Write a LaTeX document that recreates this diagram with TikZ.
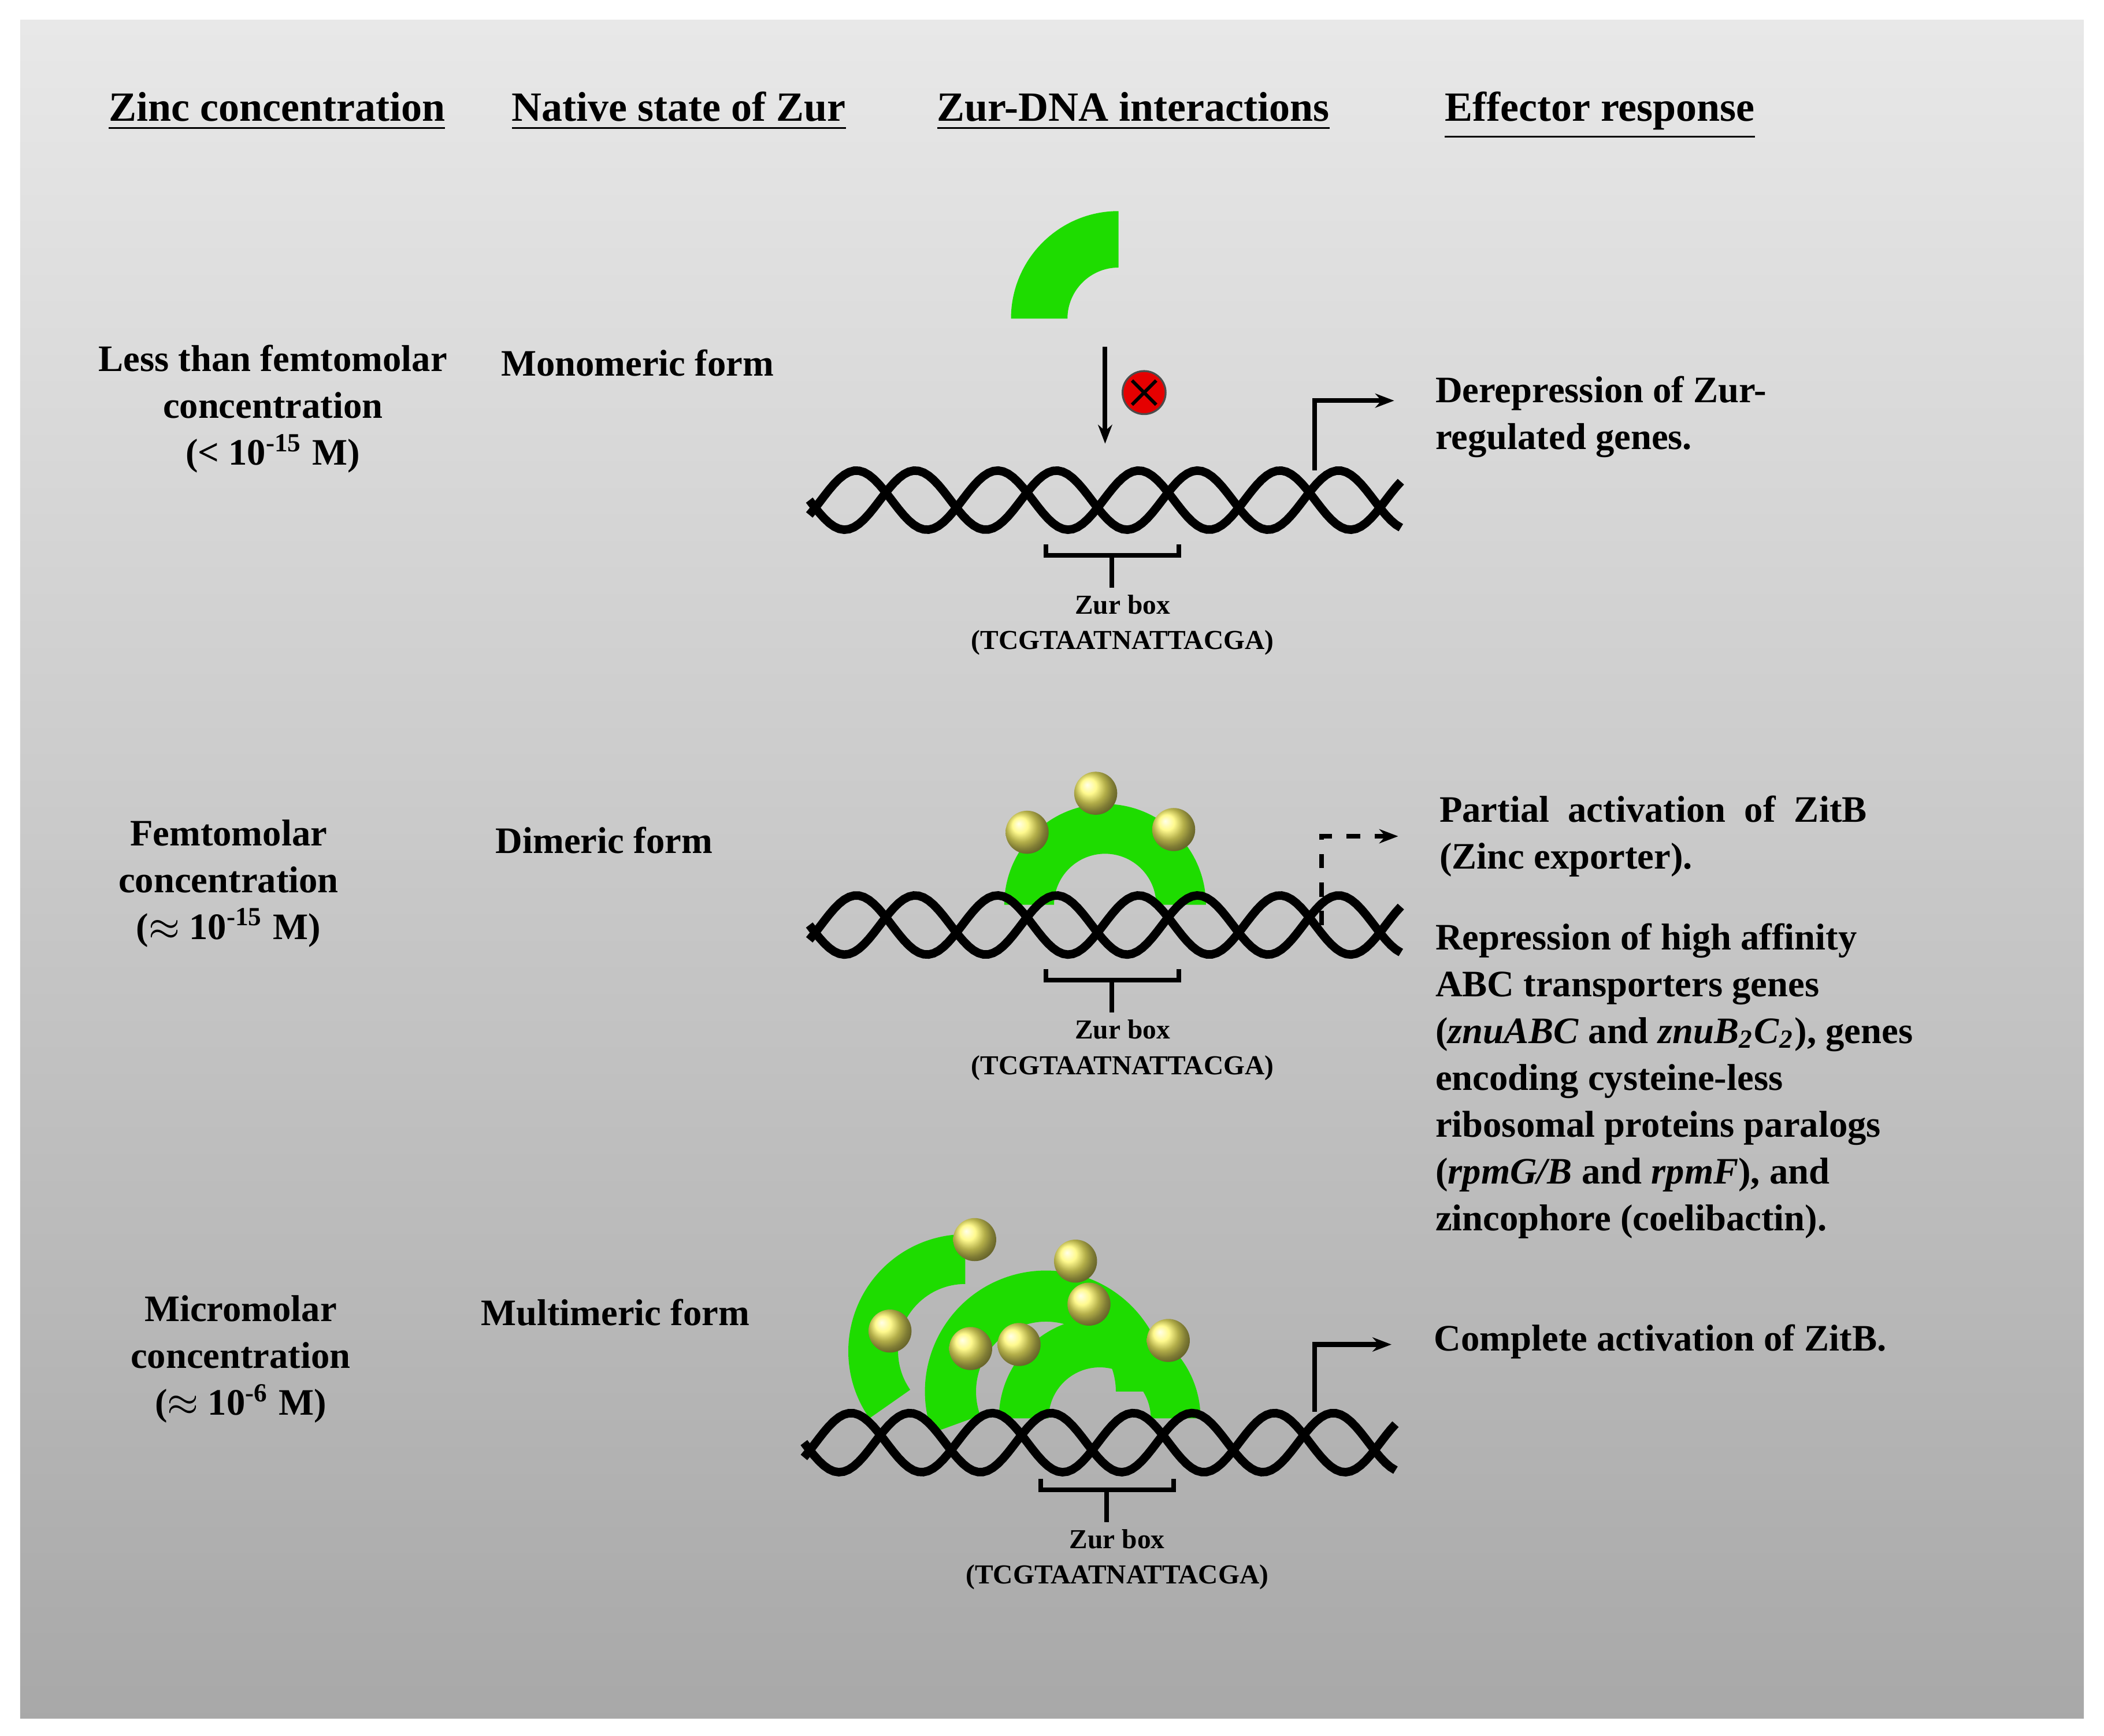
\documentclass[tikz,border=0pt]{standalone}
\usepackage{fontspec}
\setmainfont{Liberation Serif}
\usetikzlibrary{calc,arrows.meta}
\definecolor{zurgreen}{RGB}{30,220,0}
\definecolor{zincyellow}{RGB}{255,245,40}
\tikzset{
  txt/.style={font=\fontsize{7.9}{9.9}\selectfont\bfseries, inner sep=0pt},
  head/.style={font=\fontsize{8.8}{11}\selectfont\bfseries, inner sep=0pt, anchor=base},
  small/.style={font=\fontsize{5.8}{7.5}\selectfont\bfseries, inner sep=0pt, align=center},
  strand/.style={line width=1.8pt, black},
  zur/.style={fill=zurgreen},
  zinc/.style={shading=ball, ball color=zincyellow!70!white},
  tss/.style={line width=1pt, -{Stealth[length=4pt]}}
}
\newcommand\dnahelix[2]{% x0, y
  \draw[strand] plot[domain=0:440, samples=120] ({#1+\x}, {#2+22*sin(\x*3.4286)});
  \draw[strand] plot[domain=0:440, samples=120] ({#1+\x}, {#2+22*sin(\x*3.4286+150)});
}
\newcommand\zurarc[6]{% cx, cy, a1, a2, rout, rin
  \fill[zur] (#1,#2) ++(#3:#5) arc[start angle=#3, end angle=#4, radius=#5]
    -- ($(#1,#2)+(#4:#6)$) arc[start angle=#4, end angle=#3, radius=#6] -- cycle;
}
\newcommand\zurbox[3]{% x left, y, name
  \draw[line width=1pt] (#1,#2-8) -- (#1,#2) -- (#1+99,#2) -- (#1+99,#2-8);
  \draw[line width=1pt] (#1+49,#2) -- (#1+49,#2+24);
  \node[small] (#3) at (#1+57,#2+52) {Zur box\\(TCGTAATNATTACGA)};
}
\begin{document}
\begin{tikzpicture}[x=0.01cm,y=-0.01cm]
  \useasboundingbox (0,0) rectangle (1565,1291);
  \shade[top color=gray!18, bottom color=gray!68] (15,15) rectangle (1550,1278);

  % column headers
  \node[head] (h1) at (206,90) {\underline{Zinc concentration}};
  \node[head] (h2) at (505,90) {\underline{Native state of Zur}};
  \node[head] (h3) at (843,90) {\underline{Zur-DNA interactions}};
  \node[head] (h4) at (1190,90) {\underline{Effector response}};

  % row 1
  \node[txt, align=center] (c1) at (203,304) {Less than femtomolar\\concentration\\(< 10\textsuperscript{-15} M)};
  \node[txt, anchor=west] (s1) at (372,270) {Monomeric form};
  \node[txt, anchor=west, align=left] (e1) at (1067,310) {Derepression of Zur-\\regulated genes.};
  \zurarc{832}{237}{180}{270}{80}{38}
  \coordinate (m1) at (822,258);
  \coordinate (m2) at (822,330);
  \draw[line width=1pt, -{Stealth[length=4pt]}] (m1) -- (m2);
  \node[circle, fill=red!90!black, draw=black!70, minimum size=0.32cm, inner sep=0pt] (no) at (851,292) {};
  \draw[line width=0.7pt] ($(no)+(-9,-9)$) -- ($(no)+(9,9)$) ($(no)+(9,-9)$) -- ($(no)+(-9,9)$);
  \dnahelix{602}{372}
  \coordinate (p1) at (978,350);
  \coordinate (q1) at (1037,298);
  \draw[tss] (p1) |- (q1);
  \zurbox{778}{413}{b1}

  % row 2
  \node[txt, align=center] (c2) at (170,657) {Femtomolar\\concentration\\($\approx$ 10\textsuperscript{-15} M)};
  \node[txt, anchor=west] (s2) at (368,625) {Dimeric form};
  \node[txt, anchor=west, align=left] (e2) at (1070,622) {Partial\ \ activation\ \ of\ \ ZitB\\(Zinc exporter).};
  \node[txt, anchor=north west, align=left] (e3) at (1067,686) {Repression of high affinity\\ABC transporters genes\\(\textit{znuABC} and \textit{znuB\textsubscript{2}C\textsubscript{2}}), genes\\encoding cysteine-less\\ribosomal proteins paralogs\\(\textit{rpmG/B} and \textit{rpmF}), and\\zincophore (coelibactin).};
  \zurarc{822}{673}{180}{360}{75}{38}
  \shade[zinc] (815,590) circle (16);
  \shade[zinc] (764,619) circle (16);
  \shade[zinc] (873,617) circle (16);
  \dnahelix{602}{688}
  \coordinate (p2) at (983,688);
  \coordinate (q2) at (1040,622);
  \draw[tss, dashed] (p2) |- (q2);
  \zurbox{778}{729}{b2}

  % row 3
  \node[txt, align=center] (c3) at (179,1011) {Micromolar\\concentration\\($\approx$ 10\textsuperscript{-6} M)};
  \node[txt, anchor=west] (s3) at (357,976) {Multimeric form};
  \node[txt, anchor=west] (e4) at (1066,998) {Complete activation of ZitB.};
  \zurarc{718}{1005}{145}{270}{87}{50}
  \zurarc{778}{1035}{160}{360}{90}{52}
  \zurarc{818}{1055}{180}{360}{75}{38}
  \shade[zinc] (725,922) circle (16);
  \shade[zinc] (800,938) circle (16);
  \shade[zinc] (810,970) circle (16);
  \shade[zinc] (662,990) circle (16);
  \shade[zinc] (722,1003) circle (16);
  \shade[zinc] (758,1000) circle (16);
  \shade[zinc] (869,997) circle (16);
  \dnahelix{598}{1073}
  \coordinate (p3) at (978,1050);
  \coordinate (q3) at (1035,1000);
  \draw[tss] (p3) |- (q3);
  \zurbox{774}{1108}{b3}
\end{tikzpicture}
\end{document}
